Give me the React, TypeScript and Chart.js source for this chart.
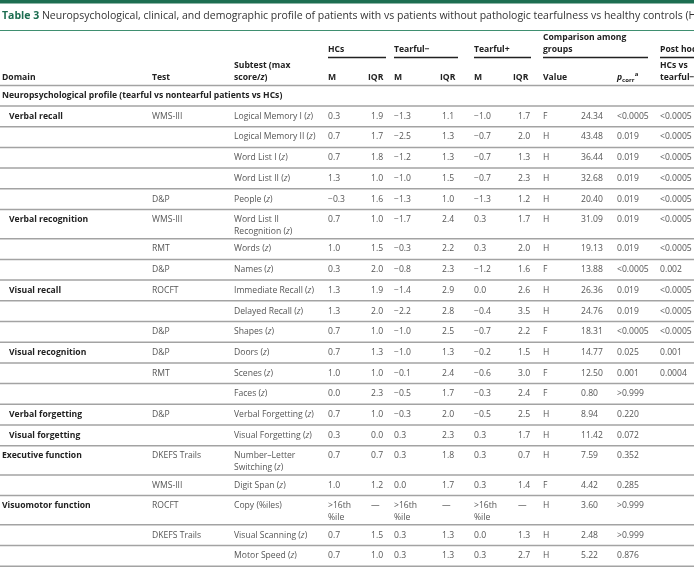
import React, { useEffect, useRef } from 'react';
import { Chart, registerables } from 'chart.js';

Chart.register(...registerables);

// ---------------- DATA ----------------
const titleLabel = 'Table 3';
const titleText =
  'Neuropsychological, clinical, and demographic profile of patients with vs patients without pathologic tearfulness vs healthy controls (HCs)';
const sectionTitle = 'Neuropsychological profile (tearful vs nontearful patients vs HCs)';

const domains = [
  'Verbal recall', '', '', '', '',
  'Verbal recognition', '', '',
  'Visual recall', '', '',
  'Visual recognition', '', '',
  'Verbal forgetting', 'Visual forgetting',
  'Executive function', '',
  'Visuomotor function', '', '',
];
const domainIsTopLevel = [
  false, false, false, false, false,
  false, false, false,
  false, false, false,
  false, false, false,
  false, false,
  true, false,
  true, false, false,
];
const tests = [
  'WMS-III', '', '', '', 'D&P',
  'WMS-III', 'RMT', 'D&P',
  'ROCFT', '', 'D&P',
  'D&P', 'RMT', '',
  'D&P', '',
  'DKEFS Trails', 'WMS-III',
  'ROCFT', 'DKEFS Trails', '',
];
const subtests = [
  'Logical Memory I (z)', 'Logical Memory II (z)', 'Word List I (z)', 'Word List II (z)', 'People (z)',
  'Word List II\nRecognition (z)', 'Words (z)', 'Names (z)',
  'Immediate Recall (z)', 'Delayed Recall (z)', 'Shapes (z)',
  'Doors (z)', 'Scenes (z)', 'Faces (z)',
  'Verbal Forgetting (z)', 'Visual Forgetting (z)',
  'Number\u2013Letter\nSwitching (z)', 'Digit Span (z)',
  'Copy (%iles)', 'Visual Scanning (z)', 'Motor Speed (z)',
];
const hcMedian: (number | string)[] = [0.3, 0.7, 0.7, 1.3, -0.3, 0.7, 1.0, 0.3, 1.3, 1.3, 0.7, 0.7, 1.0, 0.0, 0.7, 0.3, 0.7, 1.0, '>16th\n%ile', 0.7, 0.7];
const hcIqr: (number | string)[] = [1.9, 1.7, 1.8, 1.0, 1.6, 1.0, 1.5, 2.0, 1.9, 2.0, 1.0, 1.3, 1.0, 2.3, 1.0, 0.0, 0.7, 1.2, '\u2014', 1.5, 1.0];
const tearNegMedian: (number | string)[] = [-1.3, -2.5, -1.2, -1.0, -1.3, -1.7, -0.3, -0.8, -1.4, -2.2, -1.0, -1.0, -0.1, -0.5, -0.3, 0.3, 0.3, 0.0, '>16th\n%ile', 0.3, 0.3];
const tearNegIqr: (number | string)[] = [1.1, 1.3, 1.3, 1.5, 1.0, 2.4, 2.2, 2.3, 2.9, 2.8, 2.5, 1.3, 2.4, 1.7, 2.0, 2.3, 1.8, 1.7, '\u2014', 1.3, 1.3];
const tearPosMedian: (number | string)[] = [-1.0, -0.7, -0.7, -0.7, -1.3, 0.3, 0.3, -1.2, 0.0, -0.4, -0.7, -0.2, -0.6, -0.3, -0.5, 0.3, 0.3, 0.3, '>16th\n%ile', 0.0, 0.3];
const tearPosIqr: (number | string)[] = [1.7, 2.0, 1.3, 2.3, 1.2, 1.7, 2.0, 1.6, 2.6, 3.5, 2.2, 1.5, 3.0, 2.4, 2.5, 1.7, 0.7, 1.4, '\u2014', 1.3, 2.7];
const testType = ['F', 'H', 'H', 'H', 'H', 'H', 'H', 'F', 'H', 'H', 'F', 'H', 'F', 'F', 'H', 'H', 'H', 'F', 'H', 'H', 'H'];
const statValue = [24.34, 43.48, 36.44, 32.68, 20.40, 31.09, 19.13, 13.88, 26.36, 24.76, 18.31, 14.77, 12.50, 0.80, 8.94, 11.42, 7.59, 4.42, 3.60, 2.48, 5.22];
const pCorr = ['<0.0005', '0.019', '0.019', '0.019', '0.019', '0.019', '0.019', '<0.0005', '0.019', '0.019', '<0.0005', '0.025', '0.001', '>0.999', '0.220', '0.072', '0.352', '0.285', '>0.999', '>0.999', '0.876'];
const postHoc = ['<0.0005', '<0.0005', '<0.0005', '<0.0005', '<0.0005', '<0.0005', '<0.0005', '0.002', '<0.0005', '<0.0005', '<0.0005', '0.001', '0.0004', '', '', '', '', '', '', '', ''];

// ---------------- STYLE ----------------
const FONT = "'Open Sans', 'Noto Sans', sans-serif";
const GREEN = '#1d6e51';
const BODY_SIZE = 8.6;
const HEAD_SIZE = 8.6;

const fmt1 = (v: number | string) =>
  typeof v === 'string' ? v : v < 0 ? '\u2212' + Math.abs(v).toFixed(1) : v.toFixed(1);

function drawRich(ctx: CanvasRenderingContext2D, text: string, x: number, y: number, size: number, bold: boolean, color: string) {
  const parts = text.split(/(?<=[(/])(z)(?=\))/);
  let cx = x;
  ctx.fillStyle = color;
  ctx.textAlign = 'left';
  ctx.textBaseline = 'middle';
  parts.forEach((p, i) => {
    const italic = i % 2 === 1;
    ctx.font = `${italic ? 'italic ' : ''}${bold ? 'bold ' : ''}${size}px ${FONT}`;
    ctx.fillText(p, cx, y);
    cx += ctx.measureText(p).width;
  });
}

const tablePlugin = {
  id: 'tablePlugin',
  afterDraw(chart: any) {
    const ctx: CanvasRenderingContext2D = chart.ctx;
    const xs = chart.scales.x;
    const ys = chart.scales.y;
    const X = (v: number) => xs.getPixelForValue(v);
    const Y = (v: number) => ys.getPixelForValue(v);
    const right = X(694);

    ctx.save();
    // top bar
    ctx.fillStyle = GREEN;
    ctx.fillRect(X(0), Y(0), right - X(0), Y(3.5) - Y(0));

    // title
    ctx.textBaseline = 'middle';
    ctx.font = `bold 10.5px ${FONT}`;
    ctx.fillStyle = GREEN;
    ctx.fillText(titleLabel, X(2), Y(16));
    const tw = ctx.measureText(titleLabel + ' ').width;
    ctx.font = `10.5px ${FONT}`;
    ctx.fillStyle = '#333';
    ctx.fillText(titleText, X(2) + tw, Y(16));

    ctx.strokeStyle = '#3f8f70';
    ctx.lineWidth = 1;
    ctx.beginPath();
    ctx.moveTo(X(0), Y(30.5));
    ctx.lineTo(right, Y(30.5));
    ctx.stroke();

    // column positions
    const c = {
      domain: 2, sub: 9, test: 152, subtest: 234,
      hcM: 328, hcI: 371, tnM: 394, tnI: 442, tpM: 474, tpI: 518,
      type: 543, stat: 581, p: 617, post: 660,
    };
    const hb = (t: string, x: number, y: number) => drawRich(ctx, t, X(x), Y(y), HEAD_SIZE, true, '#222');

    // header
    hb('HCs', c.hcM, 49.5);
    hb('Tearful\u2212', c.tnM, 49.5);
    hb('Tearful+', c.tpM, 49.5);
    hb('Comparison among', c.type, 38);
    hb('groups', c.type, 49.5);
    hb('Post hoc', c.post, 49.5);
    ctx.strokeStyle = '#222';
    ctx.lineWidth = 1.3;
    const underline = (a: number, b: number) => {
      ctx.beginPath();
      ctx.moveTo(X(a), Y(57.5));
      ctx.lineTo(X(b), Y(57.5));
      ctx.stroke();
    };
    underline(c.hcM, 386);
    underline(c.tnM, 458);
    underline(c.tpM, 531);
    underline(c.type, 648);
    underline(c.post, 694);

    hb('Domain', c.domain, 78);
    hb('Test', c.test, 78);
    hb('Subtest (max', c.subtest, 66);
    hb('score/z)', c.subtest, 78);
    hb('M', c.hcM, 78);
    hb('IQR', 368, 78);
    hb('M', c.tnM, 78);
    hb('IQR', 440, 78);
    hb('M', c.tpM, 78);
    hb('IQR', 513, 78);
    hb('Value', c.type, 78);
    hb('HCs vs', c.post, 66);
    hb('tearful\u2212', c.post, 78);
    // p_corr with superscript a
    ctx.fillStyle = '#222';
    ctx.font = `italic bold ${HEAD_SIZE}px ${FONT}`;
    ctx.fillText('p', X(c.p), Y(78));
    let px = X(c.p) + ctx.measureText('p').width;
    ctx.font = `bold 6px ${FONT}`;
    ctx.fillText('corr', px, Y(80));
    px += ctx.measureText('corr').width + 0.5;
    ctx.font = `bold 6px ${FONT}`;
    ctx.fillText('a', px, Y(74));

    const rule = (y: number) => {
      ctx.strokeStyle = '#a3a3a3';
      ctx.lineWidth = 1.5;
      ctx.beginPath();
      ctx.moveTo(X(0), Y(y));
      ctx.lineTo(right, Y(y));
      ctx.stroke();
    };
    rule(85.5);

    // section row
    drawRich(ctx, sectionTitle, X(c.domain), Y(95.5), BODY_SIZE, true, '#222');
    rule(106);

    // body rows
    let top = 106;
    const bodyColor = '#555';
    const bt = (t: string, x: number, y: number) => {
      t.split('\n').forEach((line, k) => drawRich(ctx, line, X(x), Y(y + k * 12), BODY_SIZE, false, bodyColor));
    };
    subtests.forEach((st, i) => {
      const isDouble = st.includes('\n') || String(hcMedian[i]).includes('\n');
      const h = isDouble ? 29.2 : 20.7;
      const ty = top + 10.3;
      if (domains[i]) {
        drawRich(ctx, domains[i], X(domainIsTopLevel[i] ? c.domain : c.sub), Y(ty), BODY_SIZE, true, '#222');
      }
      if (tests[i]) bt(tests[i], c.test, ty);
      bt(st, c.subtest, ty);
      bt(fmt1(hcMedian[i]), c.hcM, ty);
      bt(fmt1(hcIqr[i]), c.hcI, ty);
      bt(fmt1(tearNegMedian[i]), c.tnM, ty);
      bt(fmt1(tearNegIqr[i]), c.tnI, ty);
      bt(fmt1(tearPosMedian[i]), c.tpM, ty);
      bt(fmt1(tearPosIqr[i]), c.tpI, ty);
      bt(testType[i], c.type, ty);
      bt(statValue[i].toFixed(2), c.stat, ty);
      bt(pCorr[i], c.p, ty);
      if (postHoc[i]) bt(postHoc[i], c.post, ty);
      top += h;
      rule(top);
    });
    ctx.restore();
  },
};

export default function App() {
  const ref = useRef<HTMLCanvasElement | null>(null);
  useEffect(() => {
    if (!ref.current) return;
    const chart = new Chart(ref.current, {
      type: 'scatter',
      data: { datasets: [{ data: [], pointRadius: 0 }] },
      options: {
        responsive: false,
        animation: false,
        layout: { padding: 0 },
        events: [],
        scales: {
          x: { type: 'linear', min: 0, max: 694, display: false },
          y: { type: 'linear', min: 0, max: 568, reverse: true, display: false },
        },
        plugins: { legend: { display: false }, tooltip: { enabled: false } },
      },
      plugins: [tablePlugin],
    } as any);
    return () => chart.destroy();
  }, []);
  return (
    <div style={{ position: 'fixed', left: 0, top: 0, width: 694, height: 568, background: '#fff' }}>
      <canvas ref={ref} width={694} height={568} style={{ display: 'block' }} />
    </div>
  );
}
